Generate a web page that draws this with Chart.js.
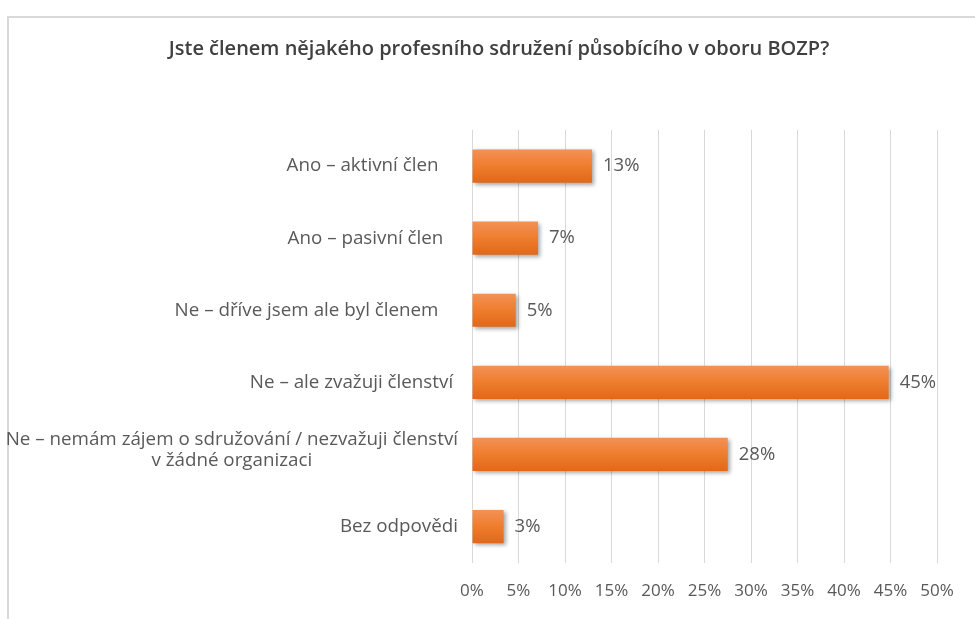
<!DOCTYPE html>
<html>
<head>
<meta charset="utf-8">
<script src="https://cdn.jsdelivr.net/npm/chart.js@4/dist/chart.umd.min.js"></script>
<style>
    body { margin: 0; background: #fff; overflow: hidden; }
    #frame {
        position: absolute; left: 7px; top: 16px; width: 2000px; height: 2000px;
        border-left: 2px solid #d9d9d9; border-top: 2px solid #d9d9d9;
    }
    #chart { position: absolute; left: 0; top: 0; }
</style>
</head>
<body>
<div id="frame"></div>
<canvas id="chart" width="975" height="619"></canvas>
<script>
const chartTitle = 'Jste členem nějakého profesního sdružení působícího v oboru BOZP?';
// the source labels carry trailing spaces, that's why they don't line up on the right
const categories = [
    ['Ano – aktivní člen    '],
    ['Ano – pasivní člen   '],
    ['Ne – dříve jsem ale byl členem    '],
    ['Ne – ale zvažuji členství '],
    ['Ne – nemám zájem o sdružování / nezvažuji členství', 'v žádné organizaci'],
    ['Bez odpovědi']
];
// (in %)
const values = [12.9, 7.1, 4.7, 44.8, 27.5, 3.4];
// the labels printed next to the bars
const valueLabels = ['13%', '7%', '5%', '45%', '28%', '3%'];
const xTicks = [0, 5, 10, 15, 20, 25, 30, 35, 40, 45, 50];

const textColor = '#595959';
const fontFamily = "'Open Sans', 'Noto Sans', sans-serif";

// orange gradient per bar, computed from the y scale
function barGradient(context) {
    const chart = context.chart;
    const yScale = chart.scales.y;
    if (!chart.chartArea || !yScale) return '#ed7d31';
    const yc = yScale.getPixelForValue(context.dataIndex);
    const half = (chart.chartArea.bottom - chart.chartArea.top) / categories.length * 0.46 / 2;
    const g = chart.ctx.createLinearGradient(0, yc - half, 0, yc + half);
    g.addColorStop(0, '#f29158');
    g.addColorStop(0.45, '#f07f30');
    g.addColorStop(1, '#e0681a');
    return g;
}

// soft shadow under the bars
const barShadow = {
    id: 'barShadow',
    beforeDatasetsDraw(chart) {
        const ctx = chart.ctx;
        ctx.save();
        ctx.shadowColor = 'rgba(0,0,0,0.35)';
        ctx.shadowBlur = 4;
        ctx.shadowOffsetX = 2;
        ctx.shadowOffsetY = 2;
    },
    afterDatasetsDraw(chart) {
        chart.ctx.restore();
    }
};

// category names on the left (second line centred under the first) and value labels
const labelsPlugin = {
    id: 'labelsPlugin',
    afterDraw(chart) {
        const ctx = chart.ctx;
        const yScale = chart.scales.y;
        ctx.save();
        ctx.font = '18.8px ' + fontFamily;
        ctx.fillStyle = textColor;
        ctx.textBaseline = 'middle';
        const rightEdge = chart.chartArea.left - 14;
        const lineH = 21;
        categories.forEach((lines, i) => {
            const yc = yScale.getPixelForValue(i) - (lines.length > 1 ? 4 : 0);
            const widest = Math.max(...lines.map(l => ctx.measureText(l).width));
            const cx = rightEdge - widest / 2;
            ctx.textAlign = 'center';
            lines.forEach((l, j) => {
                ctx.fillText(l.trim(), cx + (ctx.measureText(l).width - ctx.measureText(l.trim()).width) / -2, yc + (j - (lines.length - 1) / 2) * lineH);
            });
        });
        ctx.font = '18.5px ' + fontFamily;
        ctx.textAlign = 'left';
        chart.getDatasetMeta(0).data.forEach((el, i) => {
            ctx.fillText(valueLabels[i], el.x + 11, el.y);
        });
        ctx.restore();
    }
};

new Chart(document.getElementById('chart'), {
    type: 'bar',
    data: {
        labels: categories,
        datasets: [{
            data: values,
            backgroundColor: barGradient,
            barPercentage: 0.92,
            categoryPercentage: 0.5
        }]
    },
    options: {
        indexAxis: 'y',
        responsive: false,
        animation: false,
        layout: { padding: { left: 61, right: 38, top: 0, bottom: 0 } },
        plugins: {
            legend: { display: false },
            tooltip: { enabled: false },
            title: {
                display: true,
                text: chartTitle,
                color: '#404040',
                font: { family: fontFamily, size: 20, weight: '600', lineHeight: 1.2 },
                padding: { top: 37, bottom: 69 }
            }
        },
        scales: {
            x: {
                min: 0,
                max: 50,
                afterBuildTicks: scale => { scale.ticks = xTicks.map(v => ({ value: v })); },
                ticks: {
                    callback: v => v + '%',
                    color: textColor,
                    font: { family: fontFamily, size: 17 },
                    padding: 18
                },
                grid: { color: '#d9d9d9', lineWidth: 1, drawTicks: false },
                border: { display: false }
            },
            y: {
                afterFit: scale => { scale.width = 411; },
                ticks: { display: false },
                grid: { display: false },
                border: { display: false }
            }
        }
    },
    plugins: [barShadow, labelsPlugin]
});
</script>
</body>
</html>
